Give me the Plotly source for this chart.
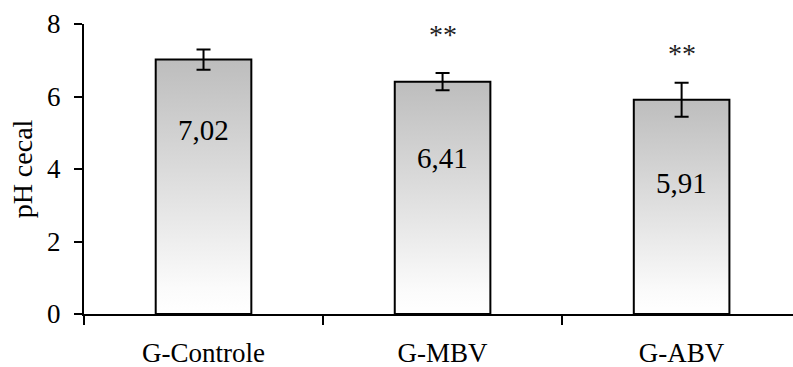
import plotly.graph_objects as go

categories = ["G-Controle", "G-MBV", "G-ABV"]
values = [7.02, 6.41, 5.91]
errors = [0.28, 0.24, 0.47]
value_labels = ["7,02", "6,41", "5,91"]
signif = ["", "**", "**"]
y_ticks = [0, 2, 4, 6, 8]

FONT = "Liberation Serif, Times New Roman, serif"
BAR_HALF = 0.2
label_shift_px = [70, 76, 83]   # label distance below bar top (px)
star_shift_px = [0, 38, 29]     # ** distance above error bar top (px)

fig = go.Figure()
xs = list(range(len(categories)))
for i, v in zip(xs, values):
    fig.add_trace(go.Scatter(
        x=[i - BAR_HALF, i - BAR_HALF, i + BAR_HALF, i + BAR_HALF, i - BAR_HALF],
        y=[0, v, v, 0, 0],
        mode="lines", fill="toself",
        fillgradient=dict(type="vertical",
                          colorscale=[[0, "#ffffff"], [0.1, "#fbfbfb"], [1, "#bdbdbd"]]),
        line=dict(color="black", width=2),
        hoverinfo="skip", showlegend=False,
    ))

fig.add_trace(go.Scatter(
    x=xs, y=values, mode="markers",
    marker=dict(size=0.1, color="rgba(0,0,0,0)"),
    error_y=dict(type="data", array=errors, visible=True, color="black",
                 thickness=2, width=7),
    showlegend=False,
))

for i, (v, e, lab, s) in enumerate(zip(values, errors, value_labels, signif)):
    fig.add_annotation(x=i, y=v, text=lab, showarrow=False, yshift=-label_shift_px[i],
                       font=dict(family=FONT, size=29, color="black"))
    if s:
        fig.add_annotation(x=i, y=v + e, text=s, showarrow=False, yshift=star_shift_px[i],
                           font=dict(family=FONT, size=28, color="#222222"))

fig.update_layout(
    width=793, height=367,
    margin=dict(l=84, r=0, t=24, b=53),
    plot_bgcolor="white", paper_bgcolor="white",
    font=dict(family=FONT, size=27, color="black"),
    xaxis=dict(
        range=[-0.5, 2.466], tickvals=xs, ticktext=categories, ticks="",
        showgrid=False, zeroline=False, automargin=False,
        showline=True, linecolor="black", linewidth=2,
        ticklabelstandoff=14,
        tickfont=dict(family=FONT, size=27, color="black"),
        minor=dict(tickvals=[-0.5, 0.5, 1.5], ticks="outside", ticklen=9,
                   tickwidth=2, tickcolor="black", showgrid=False),
    ),
    yaxis=dict(
        range=[0, 8], tickvals=y_ticks, ticks="outside", ticklen=8, tickwidth=2,
        tickcolor="black", showgrid=False, zeroline=False, automargin=False,
        showline=True, linecolor="black", linewidth=2,
        ticklabelstandoff=8,
        tickfont=dict(family=FONT, size=27, color="black"),
        title=dict(text="pH cecal", font=dict(family=FONT, size=28, color="black"),
                   standoff=6),
    ),
)

fig.write_html("out.html")
